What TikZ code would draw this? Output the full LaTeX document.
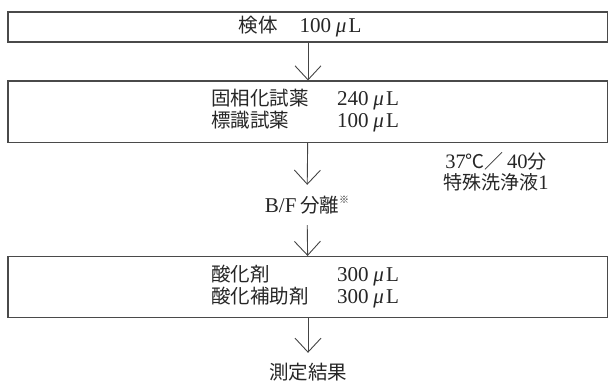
\documentclass[tikz,border=0pt]{standalone}
\usepackage{fontspec}
\setmainfont[Scale=1.08]{Liberation Serif}
\newfontfamily\cjk{Noto Sans CJK JP}
\usetikzlibrary{arrows.meta}
\definecolor{boxc}{HTML}{4A4A4A}
\definecolor{arrc}{HTML}{444444}
\newcommand\muL[1]{#1\hspace{0.22em}\textit{μ}\hspace{0.1em}L}
\begin{document}
\begin{tikzpicture}[x=1pt,y=-1pt,
  box/.style={draw=boxc,line width=1.1pt,minimum width=600pt,inner sep=0pt},
  arr/.style={draw=arrc,line width=0.9pt,-{Straight Barb[length=14pt,width=26pt,line width=0.9pt]}},
  txt/.style={inner sep=0pt,text=black!85,font=\fontsize{19.5}{19}\selectfont}]
\useasboundingbox (0,0) rectangle (608,381);
\node[box,minimum height=30pt] (b1) at (308,27) {};
\node[box,minimum height=61.5pt] (b2) at (308,111.75) {};
\node[box,minimum height=61pt] (b3) at (308,287) {};
\node[txt] (t1) at (300,27) {{\cjk 検体}\hspace{1.05em}\muL{100}};
\node[txt,anchor=west] (t2) at (211,111) {\begin{tabular}{@{}l@{\hspace{1.35em}}l@{}}{\cjk 固相化試薬} & \muL{240}\\ {\cjk 標識試薬} & \muL{100}\end{tabular}};
\node[txt,anchor=west] (t3) at (211,287) {\begin{tabular}{@{}l@{\hspace{1.35em}}l@{}}{\cjk 酸化剤} & \muL{300}\\ {\cjk 酸化補助剤} & \muL{300}\end{tabular}};
\node[txt,minimum height=40pt] (bf) at (307,205) {B/F\,{\cjk 分離}\raisebox{0.4em}{\fontsize{10}{10}\selectfont\cjk ※}};
\node[txt,align=center,font=\fontsize{19}{21.5}\selectfont] (note) at (496,172) {37{\cjk ℃／}\,40{\cjk 分}\\{\cjk 特殊洗浄液}1};
\node[txt,minimum height=38pt] (res) at (308,372) {\cjk 測定結果};
\draw[arr] (b1) -- (b2);
\draw[arr] (b2) -- (bf);
\draw[arr] (bf) -- (b3);
\draw[arr] (b3) -- (res);
\end{tikzpicture}
\end{document}
